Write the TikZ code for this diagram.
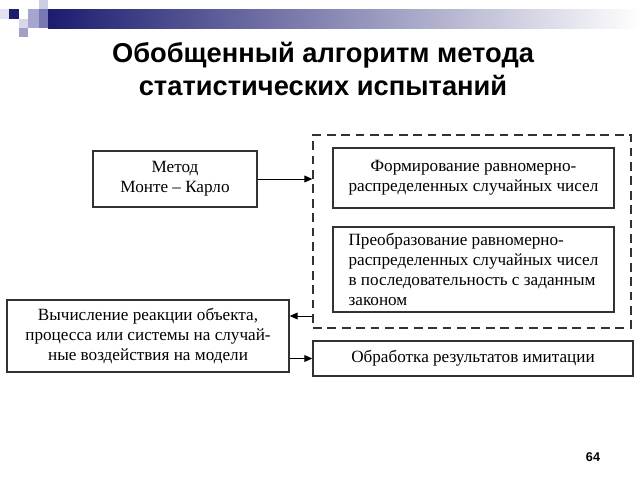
\documentclass[tikz,border=0pt]{standalone}
\usepackage{fontspec}
\setmainfont{Liberation Serif}
\newfontfamily\headfont{Liberation Sans}
\usetikzlibrary{arrows.meta}

\definecolor{navy}{RGB}{28,28,112}
\definecolor{lavlight}{RGB}{205,205,228}
\definecolor{lavmid}{RGB}{165,165,205}
\definecolor{lavdark}{RGB}{120,120,180}
\definecolor{linegray}{RGB}{50,50,50}

\tikzset{
  blok/.style={draw=linegray, line width=0.9pt, inner sep=2pt,
    font=\fontsize{12.2}{14.2}\selectfont},
  pijl/.style={line width=0.7pt, -{Triangle[length=2mm,width=1.7mm]}},
}

\begin{document}
\begin{tikzpicture}[x=0.025cm, y=-0.025cm]
    \useasboundingbox (0,0) rectangle (640,480);

    % header bar and squares
    \shade[left color=navy, right color=white] (48,9) rectangle (640,28);
    \fill[lavlight!60] (0,9) rectangle (9,19);
    \fill[navy] (9,9) rectangle (19,19);
    \fill[lavlight] (39,0) rectangle (48,9);
    \fill[lavmid] (28,9) rectangle (39,19);
    \fill[lavdark] (39,9) rectangle (48,28);
    \fill[lavlight!80] (19,19) rectangle (28,28);
    \fill[lavmid] (28,19) rectangle (39,28);
    \fill[lavmid!90!gray] (19,28) rectangle (28,37);

    \node[align=center, font=\headfont\bfseries\fontsize{19.4}{24}\selectfont] (titel) at (323,69)
      {Обобщенный алгоритм метода\\статистических испытаний};

    % blocks
    \node[blok, minimum width=4.1cm, minimum height=1.4cm, align=center] (metod) at (175,179)
      {Метод\\Монте -- Карло};
    \node[draw=linegray, line width=0.8pt, dash pattern=on 2.2mm off 1.4mm,
      minimum width=7.95cm, minimum height=4.825cm] (groep) at (472,231.5) {};
    \node[blok, minimum width=7.025cm, minimum height=1.5cm, align=center] (vorm) at (473.5,178)
      {Формирование равномерно-\\распределенных случайных чисел};
    \node[blok, minimum width=7.025cm, minimum height=2.125cm, align=left] (omzet) at (473.5,269.5)
      {Преобразование равномерно-\\распределенных случайных чисел\\в последовательность с заданным\\законом};
    \node[blok, minimum width=7.05cm, minimum height=1.8cm, align=center] (reactie) at (148,336)
      {Вычисление реакции объекта,\\процесса или системы на случай-\\ные воздействия на модели};
    \node[blok, minimum width=8cm, minimum height=0.875cm] (verwerk) at (473,358.5)
      {Обработка результатов имитации};

    % arrows
    \draw[pijl] (metod.east) -- (metod.east -| groep.west);
    \draw[pijl] ([yshift=5mm]reactie.east -| groep.west) -- ([yshift=5mm]reactie.east);
    \draw[pijl] (reactie.east |- verwerk.west) -- (verwerk.west);

    \node[font=\headfont\bfseries\fontsize{9}{10}\selectfont] (nummer) at (593,457) {64};
\end{tikzpicture}
\end{document}
